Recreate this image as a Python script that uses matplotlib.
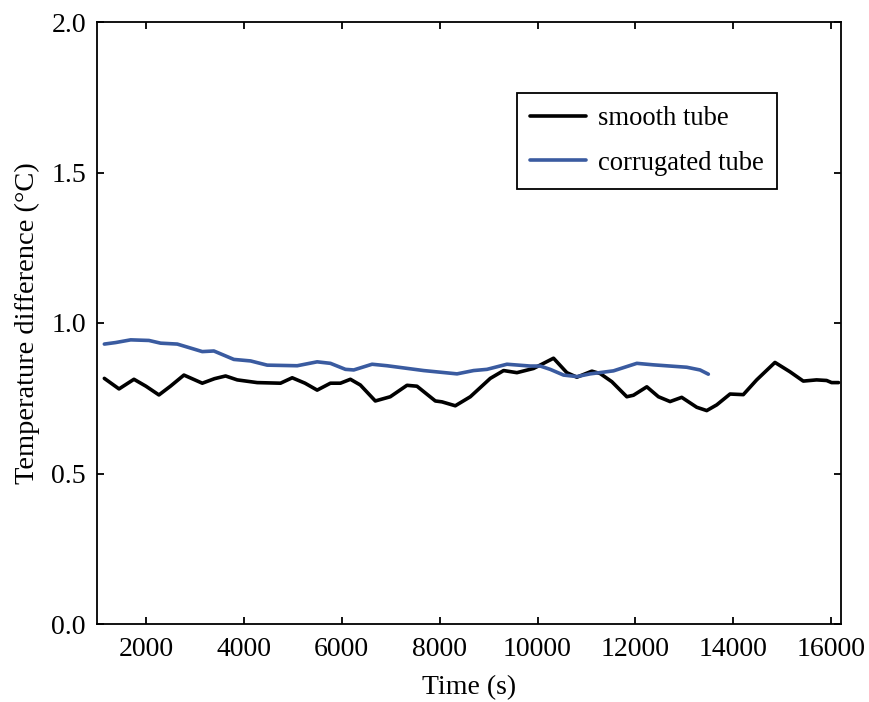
import matplotlib
matplotlib.use("Agg")
import matplotlib.pyplot as plt

plt.rcParams['font.family'] = ['Liberation Serif', 'DejaVu Serif']
plt.rcParams['mathtext.fontset'] = 'stix'

smooth_t = [1150, 1450, 1755, 2000, 2265, 2500, 2776, 3151, 3400, 3627, 3865, 4273, 4749, 4988,
            5250, 5498, 5769, 5973, 6177, 6380, 6686, 6992, 7333, 7537, 7912, 8048, 8320, 8627,
            9035, 9307, 9579, 9919, 10123, 10327, 10599, 10804, 11110, 11280, 11518, 11824,
            11960, 12233, 12470, 12708, 12946, 13253, 13457, 13661, 13933, 14204, 14477, 14851,
            15157, 15429, 15701, 15906, 16008, 16150]
smooth_v = [0.816, 0.781, 0.813, 0.790, 0.761, 0.790, 0.827, 0.800, 0.815, 0.824, 0.811, 0.802,
            0.800, 0.818, 0.800, 0.777, 0.800, 0.800, 0.813, 0.794, 0.741, 0.755, 0.793, 0.790,
            0.741, 0.738, 0.725, 0.755, 0.816, 0.842, 0.835, 0.849, 0.866, 0.883, 0.835, 0.820,
            0.840, 0.832, 0.805, 0.755, 0.760, 0.788, 0.755, 0.739, 0.753, 0.720, 0.709, 0.728,
            0.764, 0.762, 0.811, 0.869, 0.838, 0.807, 0.811, 0.809, 0.802, 0.802]

corr_t = [1150, 1380, 1688, 2061, 2300, 2640, 3151, 3388, 3796, 4137, 4477, 5090, 5498, 5769,
          6076, 6245, 6620, 6927, 7674, 8355, 8694, 8967, 9375, 9851, 10055, 10259, 10531,
          10804, 11075, 11551, 12029, 12367, 13049, 13320, 13490]
corr_v = [0.930, 0.935, 0.944, 0.942, 0.933, 0.930, 0.905, 0.907, 0.879, 0.874, 0.860, 0.858,
          0.871, 0.866, 0.846, 0.844, 0.863, 0.858, 0.842, 0.831, 0.842, 0.846, 0.863, 0.857,
          0.857, 0.846, 0.827, 0.822, 0.831, 0.841, 0.866, 0.861, 0.853, 0.844, 0.830]

fig = plt.figure(figsize=(8.69, 7.02), dpi=100)
ax = fig.add_axes([97/869, 1-624/702, 744/869, 602/702])

ax.plot(smooth_t, smooth_v, color='black', lw=2.6, label='smooth tube',
        solid_joinstyle='round', solid_capstyle='round')
ax.plot(corr_t, corr_v, color='#3a5ba0', lw=2.6, label='corrugated tube',
        solid_joinstyle='round', solid_capstyle='round')

ax.set_xlim(1000, 16200)
ax.set_ylim(0, 2.0)
ax.set_xticks([2000, 4000, 6000, 8000, 10000, 12000, 14000, 16000])
ax.set_yticks([0.0, 0.5, 1.0, 1.5, 2.0])
ax.set_yticklabels(['0.0', '0.5', '1.0', '1.5', '2.0'])
ax.tick_params(direction='in', length=5, width=1.3, labelsize=20, top=True, right=True,
               labeltop=False, labelright=False)
ax.tick_params(axis='x', pad=9)
ax.tick_params(axis='y', pad=8)
for s in ax.spines.values():
    s.set_linewidth(1.3)
ax.set_xlabel('Time (s)', fontsize=20, labelpad=10)
ax.set_ylabel('Temperature difference (°C)', fontsize=20.5, labelpad=8)

leg = ax.legend(loc='upper right', bbox_to_anchor=(0.914, 0.882), borderaxespad=0,
                fontsize=19.2, fancybox=False, edgecolor='black', handlelength=2.1,
                handletextpad=0.45, borderpad=0.5, labelspacing=0.72, framealpha=1)
leg.get_frame().set_linewidth(1.3)

fig.savefig('out.png', dpi=100)
